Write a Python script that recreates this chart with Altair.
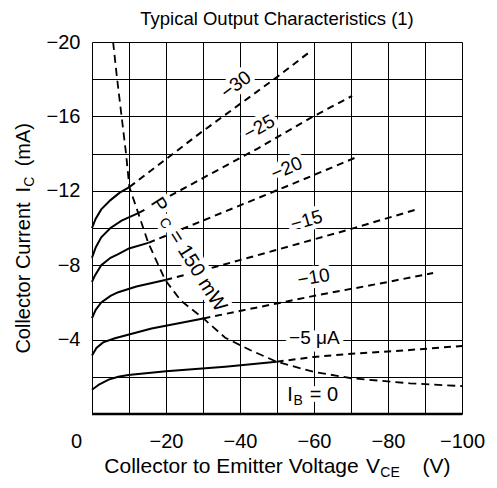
import altair as alt
import pandas as pd

FONT = "Liberation Sans"
TITLE = "Typical Output Characteristics (1)"

# ---- axis grid values ----
x_grid_vals = [0, -10, -20, -30, -40, -50, -60, -70, -80, -90, -100]
y_grid_vals = [0, -2, -4, -6, -8, -10, -12, -14, -16, -18, -20]

# ---- characteristic curves (V_CE in V, I_C in mA) ----
# saturation part (solid) and active part (dashed) for each I_B
ib30_sat_v = [0, -1, -2.5, -5, -7.5, -10.1]
ib30_sat_i = [-10.0, -10.5, -11.0, -11.5, -11.9, -12.2]
ib30_act_v = [-10.1, -29.2, -49.9, -58.4]
ib30_act_i = [-12.2, -15.1, -18.1, -19.4]

ib25_sat_v = [0, -1, -2.5, -5, -8, -12.5]
ib25_sat_i = [-8.4, -8.95, -9.5, -10.0, -10.4, -10.8]
ib25_act_v = [-12.5, -29.2, -45, -59.8, -70.3]
ib25_act_i = [-10.8, -12.6, -14.3, -16.0, -17.1]

ib20_sat_v = [0, -0.8, -2.5, -5, -7.1, -10, -15.2]
ib20_sat_i = [-7.1, -7.45, -8.0, -8.4, -8.6, -8.9, -9.2]
ib20_act_v = [-15.2, -30, -47.2, -60, -71.4]
ib20_act_i = [-9.2, -10.4, -11.8, -12.85, -13.8]

ib15_sat_v = [0, -1, -2.5, -5, -7.1, -12, -19.8]
ib15_sat_i = [-5.15, -5.6, -6.0, -6.35, -6.55, -6.85, -7.2]
ib15_act_v = [-19.8, -33.2, -49.5, -69.7, -87.8]
ib15_act_i = [-7.2, -7.9, -8.8, -9.93, -11.0]

ib10_sat_v = [0, -1.2, -3, -6.2, -16.1, -30.1]
ib10_sat_i = [-3.15, -3.55, -3.85, -4.07, -4.6, -5.14]
ib10_act_v = [-30.1, -42.7, -60, -80, -92.2]
ib10_act_i = [-5.14, -5.65, -6.35, -7.1, -7.58]

ib5_sat_v = [0, -2, -4.5, -7.1, -9.8, -20, -36, -49.9]
ib5_sat_i = [-1.3, -1.6, -1.85, -2.0, -2.1, -2.3, -2.54, -2.81]
ib5_act_v = [-49.9, -60, -70.2, -85.9, -100]
ib5_act_i = [-2.81, -3.07, -3.24, -3.44, -3.66]

ib0_v = [0, -100]
ib0_i = [0, 0]

# ---- power dissipation limit P_C = 150 mW ----
pc_v = [-5.7, -6.8, -8.0, -9.2, -10.1, -12.5, -15.2, -19.8, -24, -30.1, -36,
        -42.7, -49.9, -59.8, -70.2, -85.9, -100]
pc_i = [-20, -18, -16, -14, -12.2, -10.8, -9.2, -7.2, -6.1, -5.14, -4.1,
        -3.44, -2.81, -2.27, -1.92, -1.65, -1.5]

# ---- in-plot labels ----
lab_text = ["\u221230", "\u221225", "\u221220", "\u221215", "\u221210", "\u22125 \u03bcA",
            "I", "B", "= 0", "P", "C", "= 150 mW"]
lab_v = [-38.9, -45.2, -52.6, -58.0, -59.9, -60.1,
         -53.5, -55.7, -62.7, -18.1, -19.7, -28.5]
lab_i = [-17.7, -15.4, -13.2, -10.4, -7.34, -4.1,
         -1.02, -0.7, -1.02, -11.24, -10.25, -7.69]
lab_ang = [323, 331, 337, 344, 350, 0, 0, 0, 0, 58, 58, 58]
lab_fs = [19, 19, 19, 19, 19, 19, 20, 14, 20, 20, 14, 20]

# ---- build tables ----
curves = [
    ("30", ib30_sat_v, ib30_sat_i, ib30_act_v, ib30_act_i),
    ("25", ib25_sat_v, ib25_sat_i, ib25_act_v, ib25_act_i),
    ("20", ib20_sat_v, ib20_sat_i, ib20_act_v, ib20_act_i),
    ("15", ib15_sat_v, ib15_sat_i, ib15_act_v, ib15_act_i),
    ("10", ib10_sat_v, ib10_sat_i, ib10_act_v, ib10_act_i),
    ("5", ib5_sat_v, ib5_sat_i, ib5_act_v, ib5_act_i),
]
rows = []
for name, sv, si, av, ai in curves:
    for k, (v, i) in enumerate(zip(sv, si)):
        rows.append(dict(seg=name + "s", style="solid", k=k, V=v, I=i))
    for k, (v, i) in enumerate(zip(av, ai)):
        rows.append(dict(seg=name + "d", style="dashed", k=k, V=v, I=i))
df = pd.DataFrame(rows)
df0 = pd.DataFrame(dict(V=ib0_v, I=ib0_i, k=list(range(len(ib0_v)))))
dpc = pd.DataFrame(dict(V=pc_v, I=pc_i, k=list(range(len(pc_v)))))
dlab = pd.DataFrame(dict(t=lab_text, V=lab_v, I=lab_i, ang=lab_ang, fs=lab_fs))

xs = alt.Scale(domain=[0, -100], nice=False, zero=False)
ys = alt.Scale(domain=[0, -20], nice=False, zero=False)

x_axis = alt.Axis(
    values=x_grid_vals,
    labelExpr="datum.value % 20 == 0 ? (datum.value == 0 ? '0' : '\u2212' + abs(datum.value)) : ''",
    grid=True, gridColor="black", gridWidth=1, gridOpacity=1,
    ticks=False, domain=False, title=None,
    labelFont=FONT, labelFontSize=20, labelColor="black", labelPadding=17,
    labelFlush=False, labelOverlap=False,
    labelOffset={"condition": {"test": "datum.value == 0", "value": -16}, "value": 0},
)
y_axis = alt.Axis(
    values=y_grid_vals,
    labelExpr="(datum.value % 4 == 0 && datum.value != 0) ? '\u2212' + abs(datum.value) : ''",
    grid=True, gridColor="black", gridWidth=1, gridOpacity=1,
    ticks=False, domain=False, title=None,
    labelFont=FONT, labelFontSize=20, labelColor="black", labelPadding=12,
    labelFlush=False, labelOverlap=False,
)

X = alt.X("V:Q", scale=xs, axis=x_axis)
Y = alt.Y("I:Q", scale=ys, axis=y_axis)

solid = alt.Chart(df).transform_filter(alt.datum.style == "solid").mark_line(
    color="black", strokeWidth=2).encode(x=X, y=Y, detail="seg:N", order="k:Q")
dashed = alt.Chart(df).transform_filter(alt.datum.style == "dashed").mark_line(
    color="black", strokeWidth=2, strokeDash=[7, 5]).encode(x=X, y=Y, detail="seg:N", order="k:Q")
zero = alt.Chart(df0).mark_line(color="black", strokeWidth=2.6).encode(x=X, y=Y, order="k:Q")
pc = alt.Chart(dpc).mark_line(color="black", strokeWidth=1.8, strokeDash=[8, 5]).encode(
    x=X, y=Y, order="k:Q")

lab_enc = dict(x=X, y=Y, text="t:N", angle=alt.Angle("ang:Q", scale=None),
               size=alt.Size("fs:Q", scale=None))
halo = alt.Chart(dlab).mark_text(font=FONT, align="center", baseline="middle",
                                 stroke="white", strokeWidth=9, strokeJoin="round",
                                 fill="white").encode(**lab_enc)
labels = alt.Chart(dlab).mark_text(font=FONT, align="center", baseline="middle",
                                   color="black").encode(**lab_enc)


def txt(s, px, py, fs=20, angle=0, baseline="alphabetic"):
    return alt.Chart(pd.DataFrame({"t": [s]})).mark_text(
        font=FONT, fontSize=fs, color="black", align="center", baseline=baseline,
        angle=angle).encode(text="t:N", x=alt.value(px), y=alt.value(py))


titles = [
    txt(TITLE, 185, -17, fs=18.5),
    txt("Collector to Emitter Voltage", 139.5, 431, fs=21),
    txt("V", 281, 431, fs=21),
    txt("CE", 298, 434.5, fs=14),
    txt("(V)", 344.5, 431, fs=21),
    txt("Collector Current", -68, 236, angle=270, baseline="middle"),
    txt("I", -68, 147.6, angle=270, baseline="middle"),
    txt("C", -62, 139.8, fs=14, angle=270, baseline="middle"),
    txt("(mA)", -68, 102.7, angle=270, baseline="middle"),
]

chart = alt.layer(solid, dashed, zero, pc, halo, labels, *titles).properties(
    width=370, height=372,
    autosize=alt.AutoSizeParams(type="none"),
    padding={"left": 84, "top": 34, "right": 27, "bottom": 66},
).configure_view(stroke="black", strokeWidth=1.5).configure(background="white")

chart.save("out.html", embed_options={"renderer": "svg", "actions": False})
